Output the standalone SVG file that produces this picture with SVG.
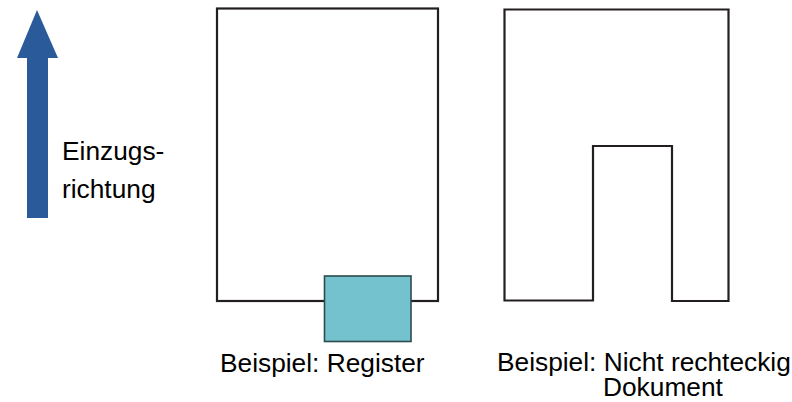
<svg xmlns="http://www.w3.org/2000/svg" width="792" height="402" viewBox="0 0 792 402">
<style>
.outline{fill:#ffffff;stroke:#231f20;stroke-width:2.2;stroke-linejoin:miter}
.tab{fill:#74c2ce;stroke:#2d4a4e;stroke-width:1.6}
.lbl{font-family:"Liberation Sans",Arial,sans-serif;font-size:26.3px;fill:#000000}
.arrow{fill:#2a5a99}
</style>
<rect width="792" height="402" fill="#ffffff"/>
<g id="direction-arrow">
<polygon class="arrow" points="37,10 58,58 48,58 48,218 27,218 27,58 17,58"/>
<text class="lbl" x="62" y="160">Einzugs-</text>
<text class="lbl" x="62" y="198">richtung</text>
</g>
<g id="register-document">
<rect class="outline" x="217" y="8.5" width="221" height="292.5"/>
<rect id="register-tab" class="tab" x="324.5" y="276" width="86.5" height="65.5"/>
<text class="lbl" x="220" y="372">Beispiel: Register</text>
</g>
<g id="nonrect-document">
<polygon class="outline" points="504.5,9.5 728.5,9.5 728.5,301 672,301 672,146 593,146 593,300.5 504.5,300.5"/>
<text class="lbl" x="497" y="371">Beispiel: Nicht rechteckig</text>
<text class="lbl" x="603" y="396">Dokument</text>
</g>
<g id="connectors"></g>
</svg>
